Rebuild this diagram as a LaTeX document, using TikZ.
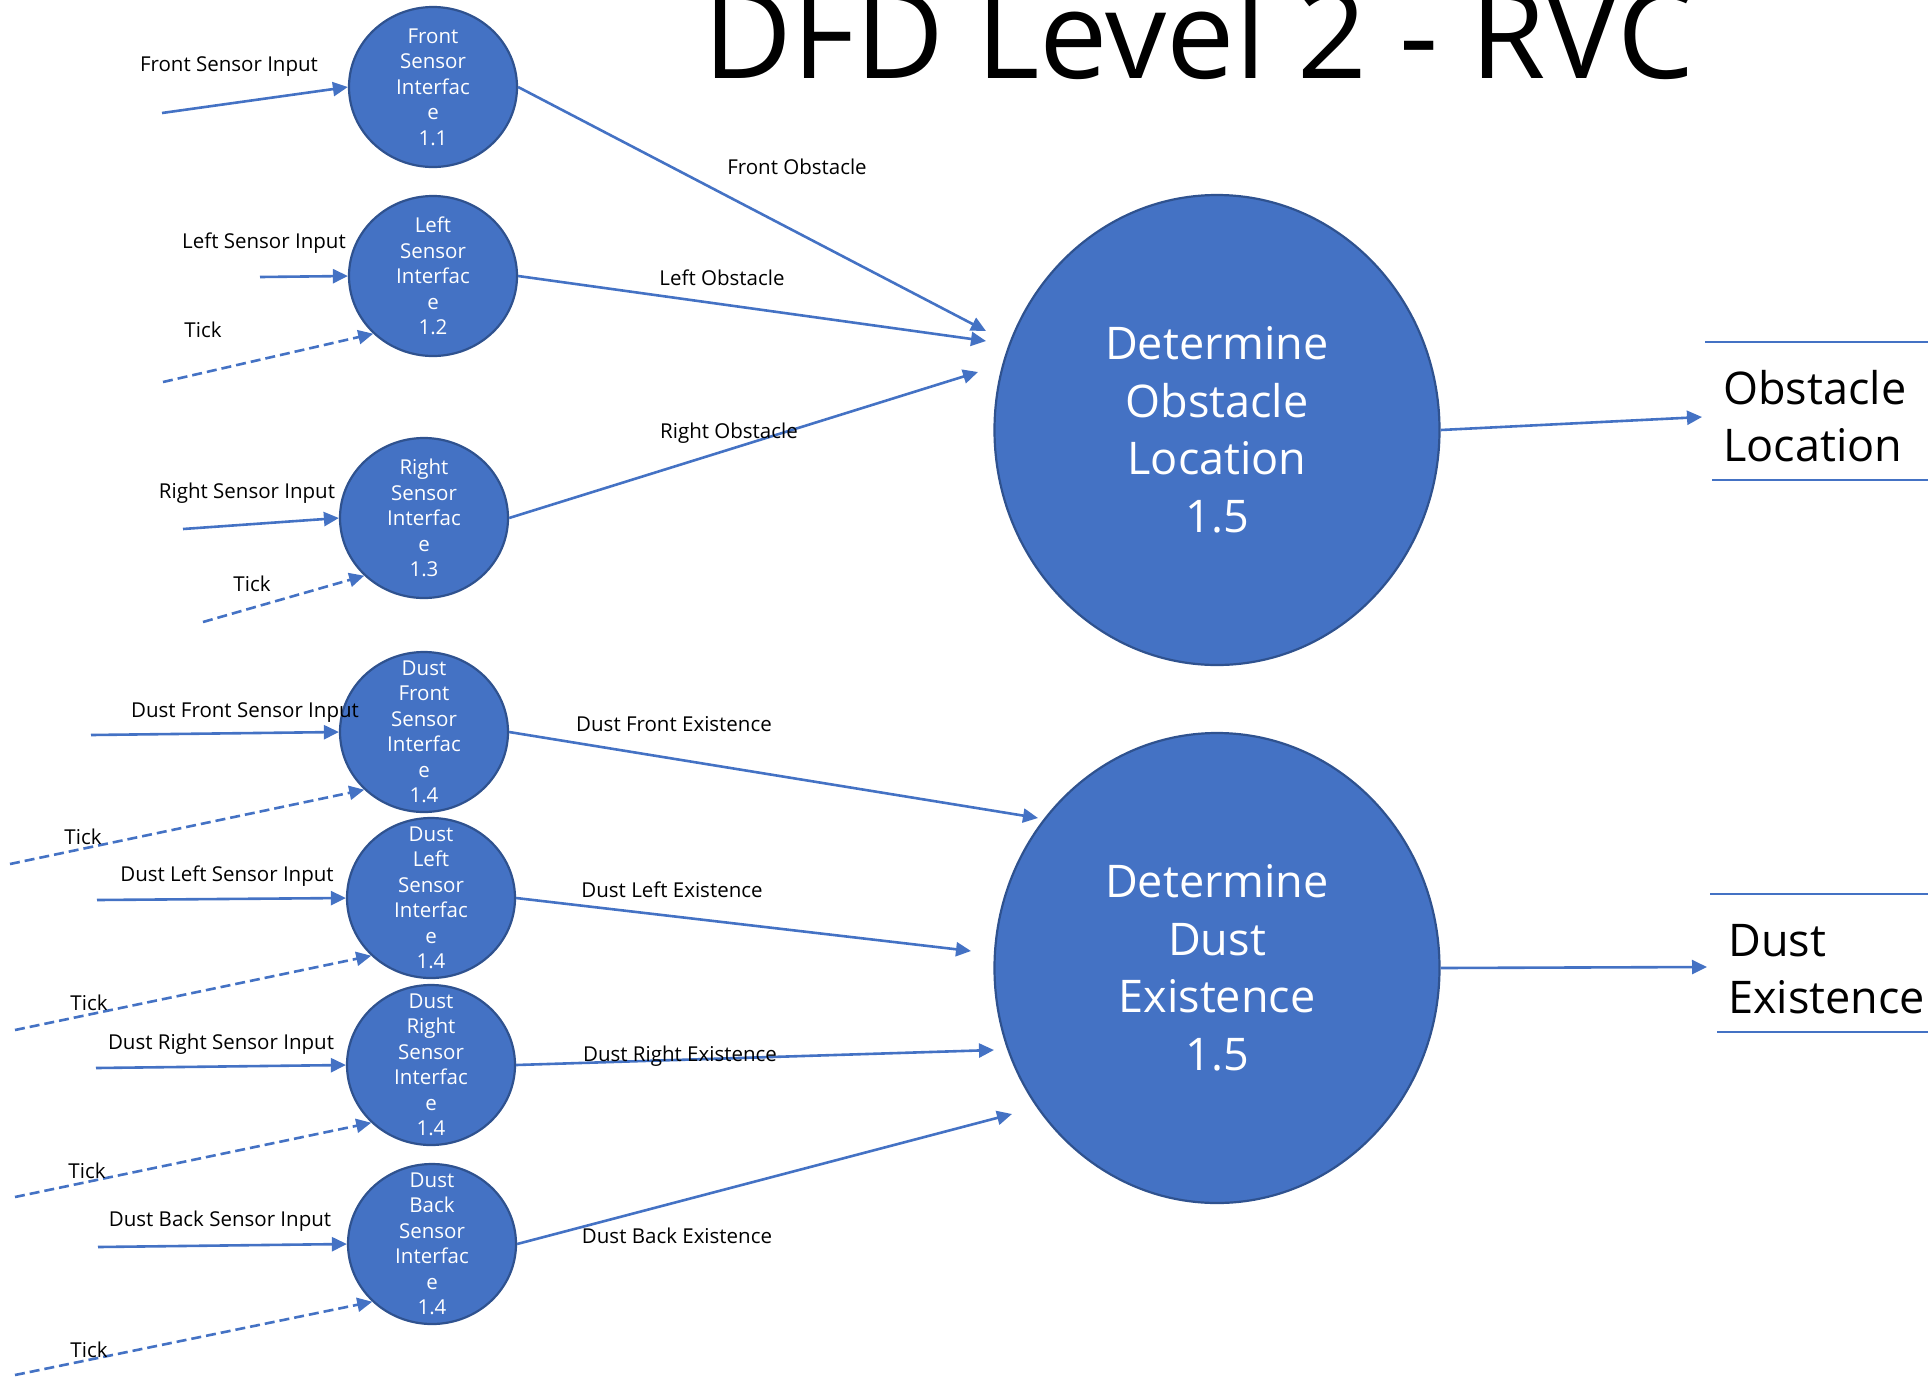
\documentclass[tikz,border=0pt]{standalone}
\usepackage{fontspec}
\setmainfont{Open Sans}
\usetikzlibrary{arrows.meta,shapes.geometric}

\definecolor{dfdblue}{HTML}{4472C4}
\definecolor{dfdedge}{HTML}{2F528F}

\begin{document}
\begin{tikzpicture}[x=1pt,y=-1pt,
    proc/.style={ellipse,draw=dfdedge,fill=dfdblue,line width=2.2pt,inner sep=0pt,
                 minimum width=168pt,minimum height=160pt},
    bigproc/.style={ellipse,draw=dfdedge,fill=dfdblue,line width=2.2pt,inner sep=0pt,
                 minimum width=445pt,minimum height=470pt,text=white,align=center,
                 font=\fontsize{45}{57.5}\selectfont},
    proctext/.style={text=white,align=center,inner sep=0pt,font=\fontsize{20.5}{25.5}\selectfont},
    flow/.style={draw=dfdblue,line width=2.6pt,-{Triangle[length=15pt,width=14pt]}},
    tick/.style={flow,dash pattern=on 10pt off 5pt},
    lbl/.style={anchor=base,inner sep=0pt,font=\fontsize{20.5}{25.5}\selectfont},
    store/.style={draw=dfdblue,line width=1.6pt},
    storetext/.style={anchor=west,inner sep=0pt,align=left,font=\fontsize{45}{57.5}\selectfont}
]
\useasboundingbox (0,0) rectangle (1928,1377);

%------------------------ title ------------------------
\node[anchor=base,inner sep=0pt,font=\fontsize{122}{130}\selectfont] (title) at (1199,78) {DFD Level 2 - RVC};

%------------------------ processes ------------------------
\node[proc,label={[proctext]center:Front\\Sensor\\Interfac\\e\\1.1}] (s11) at (433,87) {};
\node[proc,label={[proctext]center:Left\\Sensor\\Interfac\\e\\1.2}] (s12) at (433,276) {};
\node[proc,label={[proctext]center:Right\\Sensor\\Interfac\\e\\1.3}] (s13) at (424,518) {};
\node[proc,label={[proctext]center:Dust\\Front\\Sensor\\Interfac\\e\\1.4}] (s14a) at (424,732) {};
\node[proc,label={[proctext]center:Dust\\Left\\Sensor\\Interfac\\e\\1.4}] (s14b) at (431,898) {};
\node[proc,label={[proctext]center:Dust\\Right\\Sensor\\Interfac\\e\\1.4}] (s14c) at (431,1065) {};
\node[proc,label={[proctext]center:Dust\\Back\\Sensor\\Interfac\\e\\1.4}] (s14d) at (432,1244) {};

\node[bigproc] (obs) at (1217,430) {Determine\\Obstacle\\Location\\1.5};
\node[bigproc] (dust) at (1217,968) {Determine\\Dust\\Existence\\1.5};

%------------------------ free ends ------------------------
\coordinate (inFront) at (162,113);
\coordinate (inLeft) at (260,277);
\coordinate (tkLeft) at (163,382);
\coordinate (inRight) at (183,529);
\coordinate (tkRight) at (203,622);
\coordinate (inDF) at (91,735);
\coordinate (tkDF) at (10,864);
\coordinate (inDL) at (97,900);
\coordinate (tkDL) at (15,1030);
\coordinate (inDR) at (96,1068);
\coordinate (tkDR) at (15,1197);
\coordinate (inDB) at (98,1247);
\coordinate (tkDB) at (15,1375);

\coordinate (toFront) at (986,331);
\coordinate (toLeft) at (986,341);
\coordinate (toRight) at (978,372);
\coordinate (toDF) at (1038,818);
\coordinate (toDL) at (971,951);
\coordinate (toDR) at (994,1050);
\coordinate (toDB) at (1012,1114);
\coordinate (toObsStore) at (1702,417);
\coordinate (toDustStore) at (1707,967);

%------------------------ inputs ------------------------
\draw[flow] (inFront) -- (s11.west);
\draw[flow] (inLeft) -- (s12.west);
\draw[tick] (tkLeft) -- (s12.224);
\draw[flow] (inRight) -- (s13.west);
\draw[tick] (tkRight) -- (s13.224);
\draw[flow] (inDF) -- (s14a.west);
\draw[tick] (tkDF) -- (s14a.224);
\draw[flow] (inDL) -- (s14b.west);
\draw[tick] (tkDL) -- (s14b.224);
\draw[flow] (inDR) -- (s14c.west);
\draw[tick] (tkDR) -- (s14c.224);
\draw[flow] (inDB) -- (s14d.west);
\draw[tick] (tkDB) -- (s14d.224);

\node[lbl] (lFront) at (229,71) {Front Sensor Input};
\node[lbl] (lLeft) at (264,248) {Left Sensor Input};
\node[lbl] (lTk12) at (203,337) {Tick};
\node[lbl] (lRight) at (247,498) {Right Sensor Input};
\node[lbl] (lTk13) at (252,591) {Tick};
\node[lbl] (lDF) at (245,717) {Dust Front Sensor Input};
\node[lbl] (lTkDF) at (83,844) {Tick};
\node[lbl] (lDL) at (227,881) {Dust Left Sensor Input};
\node[lbl] (lTkDL) at (89,1010) {Tick};
\node[lbl] (lDR) at (221,1049) {Dust Right Sensor Input};
\node[lbl] (lTkDR) at (87,1178) {Tick};
\node[lbl] (lDB) at (220,1226) {Dust Back Sensor Input};
\node[lbl] (lTkDB) at (89,1357) {Tick};

%------------------------ to 1.5 ------------------------
\draw[flow] (s11.east) -- (toFront);
\draw[flow] (s12.east) -- (toLeft);
\draw[flow] (s13.east) -- (toRight);
\draw[flow] (s14a.east) -- (toDF);
\draw[flow] (s14b.east) -- (toDL);
\draw[flow] (s14c.east) -- (toDR);
\draw[flow] (s14d.east) -- (toDB);

\node[lbl] (lFO) at (797,174) {Front Obstacle};
\node[lbl] (lLO) at (722,285) {Left Obstacle};
\node[lbl] (lRO) at (729,438) {Right Obstacle};
\node[lbl] (lDFE) at (674,731) {Dust Front Existence};
\node[lbl] (lDLE) at (672,897) {Dust Left Existence};
\node[lbl] (lDRE) at (680,1061) {Dust Right Existence};
\node[lbl] (lDBE) at (677,1243) {Dust Back Existence};

%------------------------ data stores ------------------------
\draw[flow] (obs.east) -- (toObsStore);
\draw[flow] (dust.east) -- (toDustStore);

\draw[store] (1705,342) -- (1928,342);
\draw[store] (1712,480) -- (1928,480);
\node[storetext] (obsStore) at (1723,416) {Obstacle\\Location};

\draw[store] (1710,894) -- (1928,894);
\draw[store] (1717,1032) -- (1928,1032);
\node[storetext] (dustStore) at (1728,969) {Dust\\Existence};

\end{tikzpicture}
\end{document}
